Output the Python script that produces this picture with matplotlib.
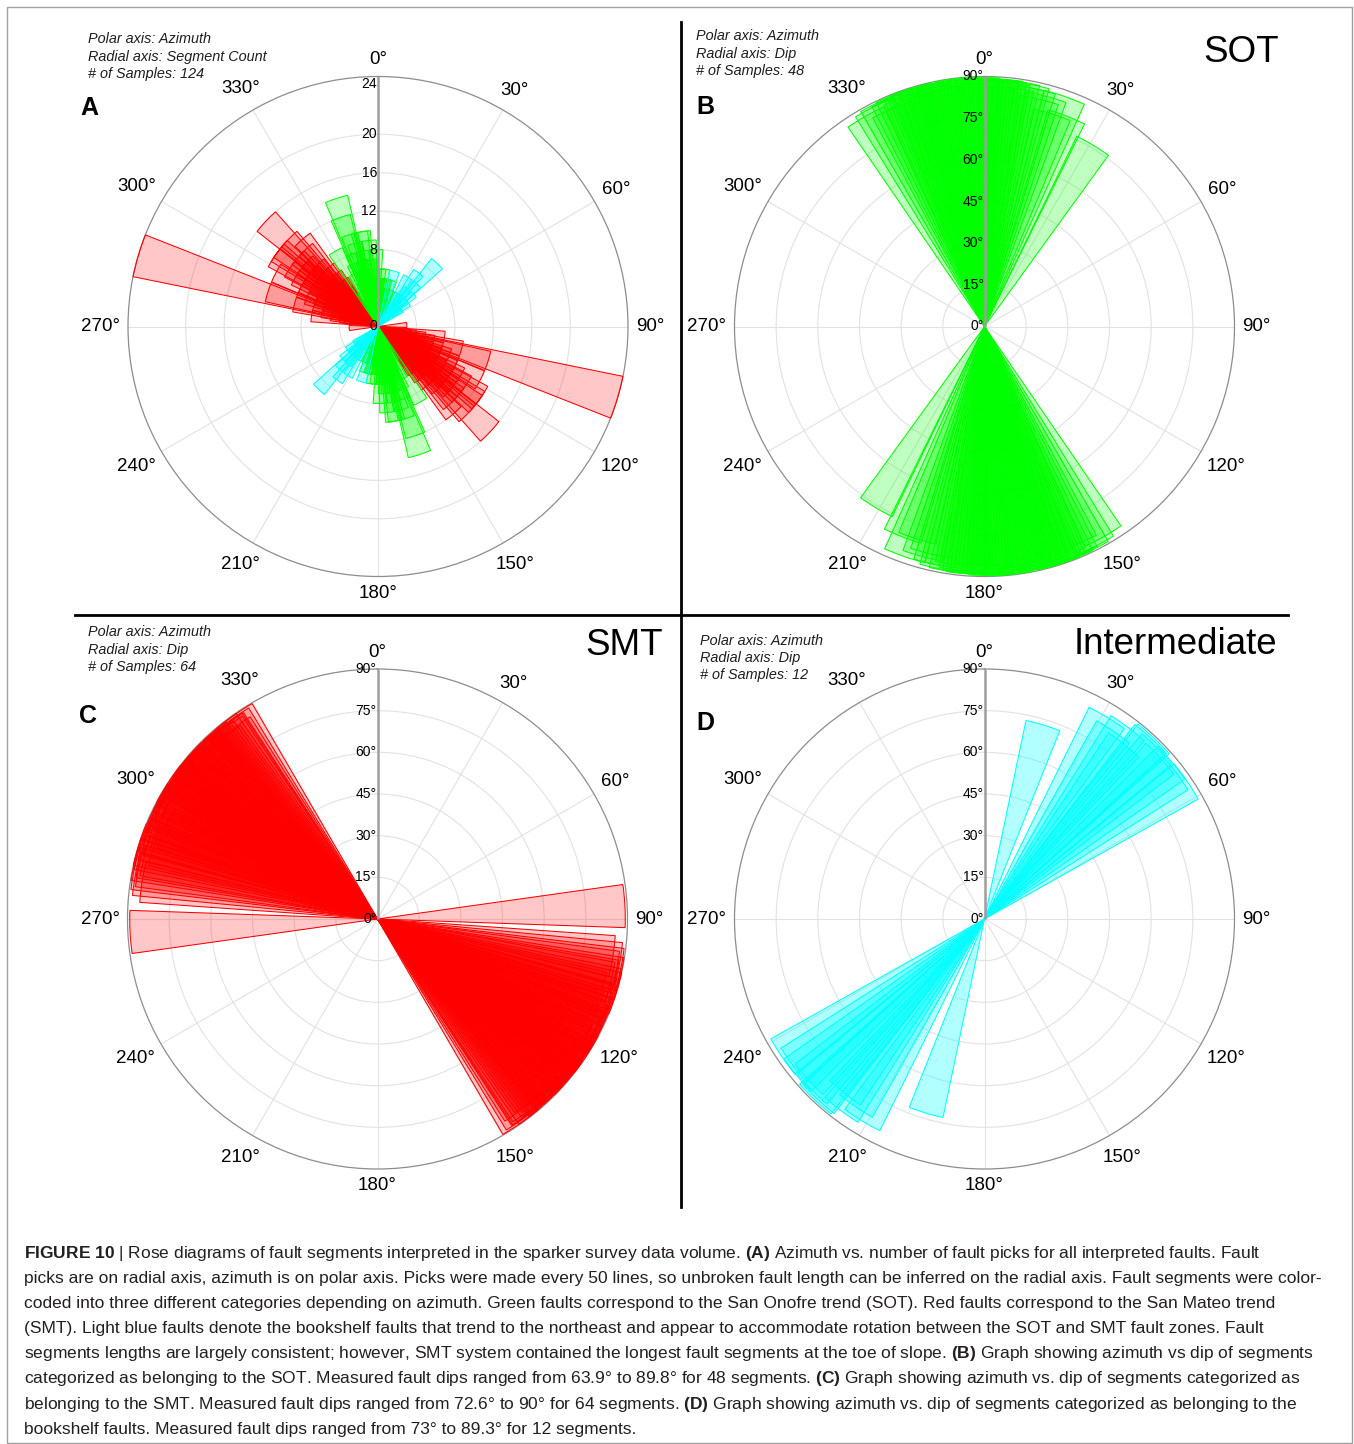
"""Rose diagrams of interpreted fault segments (azimuth vs. pick count and vs. dip)."""
import numpy as np
import matplotlib
matplotlib.use("Agg")
import matplotlib.pyplot as plt
from matplotlib.patches import Rectangle

plt.rcParams["font.family"] = ["Liberation Sans", "DejaVu Sans"]
plt.rcParams["mathtext.fontset"] = "custom"
plt.rcParams["mathtext.rm"] = "Liberation Sans"
plt.rcParams["mathtext.bf"] = "Liberation Sans:bold"
plt.rcParams["mathtext.it"] = "Liberation Sans:italic"

# ---- fault segments -------------------------------------------------------
# San Mateo trend (red): azimuth of SE end (deg), pick count, dip (deg)
smt_az = [87.0, 99.0, 100.5, 101.8, 102.6, 103.9, 104.7, 105.3, 106.5, 107.4,
          108.1, 108.9, 110.2, 110.8, 111.9, 112.5, 112.9, 113.6, 114.2, 115.0,
          115.8, 116.7, 117.1, 117.7, 118.3, 119.1, 119.8, 120.6, 121.3, 121.7,
          122.0, 122.9, 123.6, 124.4, 124.9, 125.1, 125.9, 126.3, 127.2, 127.8,
          128.5, 129.3, 129.8, 130.0, 130.7, 131.4, 132.2, 133.2, 133.9, 134.6,
          135.3, 136.1, 136.8, 137.5, 138.2, 139.0, 139.7, 140.5, 141.3, 141.7,
          142.0, 142.8, 143.6, 144.8]
smt_count = [3, 7, 4, 5, 3, 6, 9, 4, 26, 12,
             5, 7, 3, 6, 8, 4, 3, 7, 5, 9,
             6, 4, 5, 12, 9, 7, 5, 10, 8, 4,
             6, 11, 13, 7, 6, 9, 5, 13, 8, 10,
             13, 6, 5, 9, 11, 7, 10, 16, 8, 13,
             6, 9, 11, 7, 5, 12, 6, 8, 4, 5,
             7, 5, 6, 4]
smt_dip = [89.2, 85.8, 88.6, 89.4, 87.9, 89.8, 88.2, 86.9, 89.5, 90.0,
           84.7, 88.8, 87.3, 89.1, 85.6, 88.4, 83.4, 89.6, 76.3, 88.0,
           89.2, 86.4, 88.4, 89.7, 87.7, 88.9, 72.6, 89.4, 86.1, 79.1,
           88.6, 89.9, 87.2, 88.3, 89.2, 89.0, 84.9, 89.5, 88.7, 86.8,
           89.3, 88.1, 88.0, 89.8, 87.6, 81.2, 88.9, 89.6, 87.4, 88.5,
           89.1, 86.3, 88.8, 89.4, 87.0, 88.2, 85.4, 89.7, 87.8, 88.9,
           88.6, 86.0, 89.0, 89.7]

# San Onofre trend (green): azimuth of N end (deg), pick count, dip (deg)
sot_az = [330.6, 333.4, 335.1, 336.8, 337.9, 339.2, 340.4, 341.1, 342.0, 342.8,
          343.7, 344.5, 345.3, 346.2, 347.0, 347.9, 348.8, 349.6, 350.4, 351.3,
          352.1, 353.0, 353.8, 354.5, 355.4, 356.3, 357.2, 358.1, 358.6, 359.4,
          0.3, 1.2, 2.1, 3.0, 3.9, 4.8, 5.7, 6.8, 7.9, 9.1,
          10.2, 11.9, 13.4, 15.0, 17.6, 19.2, 21.3, 30.9]
sot_count = [9, 4, 6, 3, 7, 5, 8, 12, 14, 10,
             6, 9, 4, 7, 5, 8, 10, 6, 10, 5,
             7, 4, 9, 7, 5, 6, 4, 5, 8, 3,
             5, 4, 3, 6, 4, 3, 5, 6, 4, 3,
             5, 5, 4, 3, 5, 4, 3, 4]
sot_dip = [87.0, 88.6, 89.3, 85.2, 88.9, 89.6, 87.5, 89.1, 88.2, 89.7,
           86.4, 88.8, 89.4, 87.9, 89.0, 84.6, 88.3, 89.5, 86.9, 89.2,
           88.0, 63.9, 89.8, 87.3, 88.7, 89.4, 86.2, 88.9, 89.6, 87.7,
           88.4, 89.1, 85.8, 88.6, 89.3, 89.0, 88.2, 86.5, 89.0, 87.5,
           88.7, 87.5, 84.2, 85.8, 80.3, 87.7, 81.3, 76.1]

# Bookshelf faults (light blue): azimuth of NE end (deg), pick count, dip (deg)
book_az = [16.8, 31.3, 34.5, 36.9, 38.7, 42.7, 43.2, 45.4, 47.6, 50.1, 52.6, 55.7]
book_count = [6, 6, 4, 7, 5, 6, 9, 4, 5, 3, 4, 3]
book_dip = [73.0, 85.0, 82.0, 86.2, 80.5, 88.5, 89.3, 87.5, 85.9, 88.0, 86.8, 88.2]

RED = (1.0, 0.0, 0.0)
GREEN = (0.0, 1.0, 0.0)
CYAN = (0.0, 1.0, 1.0)

W, H = 1354, 1444
R = 250  # polar radius in pixels

fig = plt.figure(figsize=(W / 100, H / 100), dpi=100)


def fx(x):
    return x / W


def fy(y):
    return 1 - y / H


def rose_axes(cx, cy, rmax, rticks, rlabels, rlabel_pos):
    ax = fig.add_axes([fx(cx - R), fy(cy + R), 2 * R / W, 2 * R / H],
                      projection="polar")
    ax.set_theta_zero_location("N")
    ax.set_theta_direction(-1)
    ax.set_ylim(0, rmax)
    ax.set_xticks(np.deg2rad(np.arange(0, 360, 30)))
    ax.set_xticklabels([])
    ax.set_yticks(rticks)
    ax.set_yticklabels([])
    ax.tick_params(length=0)
    ax.grid(True, color="#e2e2e2", lw=0.8)
    ax.spines["polar"].set_edgecolor("#8d8d8d")
    ax.spines["polar"].set_linewidth(0.9)
    # north spoke drawn over the petals
    ax.plot([0, 0], [0, rmax], color="#9e9e9e", lw=1.8, zorder=6,
            solid_capstyle="butt")
    for r, s in zip(rlabel_pos, rlabels):
        ax.annotate(s, xy=(0, r), xytext=(-1, 0), textcoords="offset pixels",
                    ha="right", va="center", fontsize=10, zorder=7,
                    annotation_clip=False)
    labels = []
    for deg in range(0, 360, 30):
        t = ax.annotate(f"{deg}°", xy=(np.deg2rad(deg), rmax), xytext=(0, 0),
                        textcoords="offset pixels", ha="center", va="center",
                        fontsize=13.5, annotation_clip=False)
        labels.append((t, deg))
    return ax, labels


def petals(ax, az, val, rgb, alpha):
    az = np.asarray(az, dtype=float)
    val = np.asarray(val, dtype=float)
    th = np.deg2rad(np.concatenate([az, az + 180.0]))
    rr = np.concatenate([val, val])
    ax.bar(th, rr, width=np.deg2rad(10), bottom=0, align="center",
           color=(*rgb, alpha), edgecolor=rgb, linewidth=0.75, zorder=3,
           clip_on=False)


dip_ticks = [15, 30, 45, 60, 75]
dip_labels = ["0°", "15°", "30°", "45°", "60°", "75°", "90°"]
dip_pos = [0, 15, 30, 45, 60, 75, 90]

axA, labA = rose_axes(378, 326.5, 26, [4, 8, 12, 16, 20],
                      ["0", "8", "12", "16", "20", "24"],
                      [0, 8, 12, 16, 20, 25.2])
petals(axA, smt_az, smt_count, RED, 0.22)
petals(axA, sot_az, sot_count, GREEN, 0.25)
petals(axA, book_az, book_count, CYAN, 0.3)

axB, labB = rose_axes(984.5, 326.5, 90, dip_ticks, dip_labels, dip_pos)
petals(axB, sot_az, sot_dip, GREEN, 0.25)

axC, labC = rose_axes(377.5, 919, 90, dip_ticks, dip_labels, dip_pos)
petals(axC, smt_az, smt_dip, RED, 0.22)

axD, labD = rose_axes(984.5, 919, 90, dip_ticks, dip_labels, dip_pos)
petals(axD, book_az, book_dip, CYAN, 0.3)

# push azimuth labels just outside the rim, according to their size
renderer = fig.canvas.get_renderer()
for t, deg in labA + labB + labC + labD:
    bb = t.get_window_extent(renderer)
    s, c = np.sin(np.deg2rad(deg)), np.cos(np.deg2rad(deg))
    off = 8 + 0.5 * bb.width * abs(s) + 0.5 * bb.height * abs(c)
    t.xyann = (off * s, off * c)

# panel annotations
info = [
    (88, 43.3, ["Polar axis: Azimuth", "Radial axis: Segment Count", "# of Samples: 124"]),
    (696, 40.5, ["Polar axis: Azimuth", "Radial axis: Dip", "# of Samples: 48"]),
    (88, 636.5, ["Polar axis: Azimuth", "Radial axis: Dip", "# of Samples: 64"]),
    (700, 644.5, ["Polar axis: Azimuth", "Radial axis: Dip", "# of Samples: 12"]),
]
for x, y, lines in info:
    for i, s in enumerate(lines):
        fig.text(fx(x), fy(y + 17.3 * i), s, fontsize=10.4, fontstyle="italic",
                 color="#1e1e1e", ha="left", va="baseline")

for x, y, s in [(80, 115, "A"), (696, 114, "B"), (79, 723, "C"), (696, 730, "D")]:
    fig.text(fx(x), fy(y), s, fontsize=18, fontweight="bold", ha="left",
             va="baseline")

for x, y, s in [(1279, 62, "SOT"), (663, 655, "SMT"), (1277, 654.5, "Intermediate")]:
    fig.text(fx(x), fy(y), s, fontsize=26.5, ha="right", va="baseline")

# panel dividers and outer frame
fig.add_artist(plt.Line2D([fx(681), fx(681)], [fy(22), fy(1207)], color="black",
                          lw=2.0))
fig.add_artist(plt.Line2D([fx(75), fx(1288)], [fy(614.5), fy(614.5)],
                          color="black", lw=2.0))
fig.add_artist(Rectangle((fx(6.5), fy(1442.5)), (1352 - 6.5) / W, (1442.5 - 6.5) / H,
                         transform=fig.transFigure, fill=False,
                         edgecolor="#a0a0a0", lw=1.0))

caption = [
    r"$\bf{FIGURE\ 10}$ | Rose diagrams of fault segments interpreted in the sparker survey data volume. "
    r"$\bf{(A)}$ Azimuth vs. number of fault picks for all interpreted faults. Fault",
    "picks are on radial axis, azimuth is on polar axis. Picks were made every 50 lines, "
    "so unbroken fault length can be inferred on the radial axis. Fault segments were color-",
    "coded into three different categories depending on azimuth. Green faults correspond to "
    "the San Onofre trend (SOT). Red faults correspond to the San Mateo trend",
    "(SMT). Light blue faults denote the bookshelf faults that trend to the northeast and appear "
    "to accommodate rotation between the SOT and SMT fault zones. Fault",
    "segments lengths are largely consistent; however, SMT system contained the longest fault "
    r"segments at the toe of slope. $\bf{(B)}$ Graph showing azimuth vs dip of segments",
    "categorized as belonging to the SOT. Measured fault dips ranged from 63.9° to 89.8° for 48 "
    r"segments. $\bf{(C)}$ Graph showing azimuth vs. dip of segments categorized as",
    "belonging to the SMT. Measured fault dips ranged from 72.6° to 90° for 64 segments. "
    r"$\bf{(D)}$ Graph showing azimuth vs. dip of segments categorized as belonging to the",
    "bookshelf faults. Measured fault dips ranged from 73° to 89.3° for 12 segments.",
]
for i, s in enumerate(caption):
    fig.text(fx(24), fy(1258 + 25.1 * i), s, fontsize=12.5, color="#231f20",
             ha="left", va="baseline")

fig.savefig("out.png", dpi=100)
